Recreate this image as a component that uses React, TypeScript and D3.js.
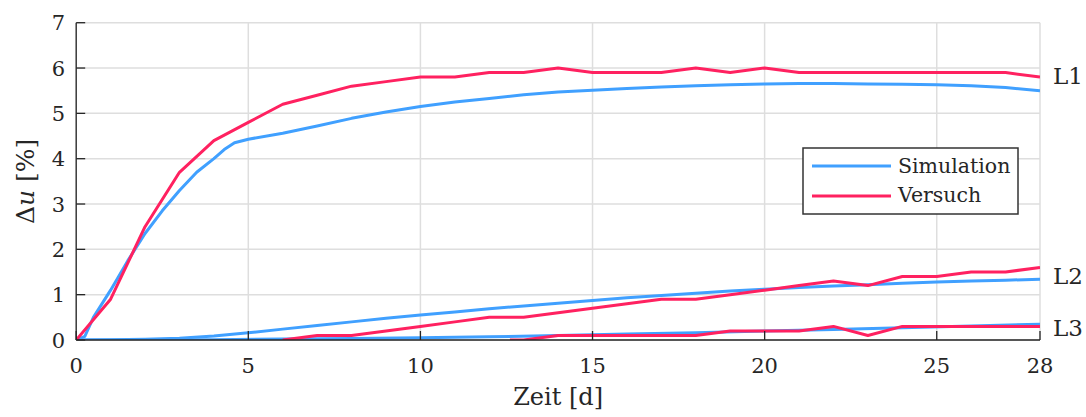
import React from "react";
import * as d3 from "d3";

// Measured deformation increase Δu [%] over time for three load levels
const days = [0, 1, 2, 3, 4, 5, 6, 7, 8, 9, 10, 11, 12, 13, 14, 15, 16, 17, 18, 19, 20, 21, 22, 23, 24, 25, 26, 27, 28];

// L1 — test (Versuch)
const l1Test = [0, 0.9, 2.5, 3.7, 4.4, 4.8, 5.2, 5.4, 5.6, 5.7, 5.8, 5.8, 5.9, 5.9, 6.0, 5.9, 5.9, 5.9, 6.0, 5.9, 6.0, 5.9, 5.9, 5.9, 5.9, 5.9, 5.9, 5.9, 5.8];

// L1 — simulation
const l1SimDays = [0, 0.25, 0.5, 1, 1.5, 2, 2.5, 3, 3.5, 4, 4.3, 4.6, 5, 6, 7, 8, 9, 10, 11, 12, 13, 14, 15, 16, 17, 18, 19, 20, 21, 22, 23, 24, 25, 26, 27, 28];
const l1Sim = [0, 0.08, 0.5, 1.1, 1.75, 2.35, 2.85, 3.3, 3.7, 4.0, 4.2, 4.35, 4.43, 4.56, 4.72, 4.89, 5.03, 5.15, 5.25, 5.33, 5.41, 5.47, 5.51, 5.55, 5.58, 5.61, 5.63, 5.65, 5.66, 5.66, 5.65, 5.64, 5.63, 5.61, 5.57, 5.5];

// L2 — simulation
const l2Sim = [0, 0.003, 0.015, 0.04, 0.09, 0.16, 0.24, 0.32, 0.4, 0.48, 0.55, 0.62, 0.69, 0.75, 0.81, 0.87, 0.93, 0.98, 1.03, 1.08, 1.12, 1.16, 1.19, 1.22, 1.25, 1.28, 1.3, 1.32, 1.34];

// L2 — test, measured from day 6
const l2TestDays = [6, 7, 8, 9, 10, 11, 12, 13, 14, 15, 16, 17, 18, 19, 20, 21, 22, 23, 24, 25, 26, 27, 28];
const l2Test = [0, 0.1, 0.1, 0.2, 0.3, 0.4, 0.5, 0.5, 0.6, 0.7, 0.8, 0.9, 0.9, 1.0, 1.1, 1.2, 1.3, 1.2, 1.4, 1.4, 1.5, 1.5, 1.6];

// L3 — simulation
const l3SimDays = [0, 2, 4, 6, 8, 10, 12, 14, 16, 18, 20, 22, 24, 26, 28];
const l3Sim = [0, 0.002, 0.008, 0.02, 0.035, 0.05, 0.07, 0.1, 0.13, 0.16, 0.2, 0.23, 0.27, 0.31, 0.35];

// L3 — test, measured from day 12.6
const l3TestDays = [12.6, 13, 14, 15, 16, 17, 18, 19, 20, 21, 22, 23, 24, 25, 26, 27, 28];
const l3Test = [0, 0, 0.1, 0.1, 0.1, 0.1, 0.1, 0.2, 0.2, 0.2, 0.3, 0.1, 0.3, 0.3, 0.3, 0.3, 0.3];

const xTicks = [0, 5, 10, 15, 20, 25, 28];
const yTicks = [0, 1, 2, 3, 4, 5, 6, 7];
const lineLabels = ["L1", "L2", "L3"];
const legendItems = ["Simulation", "Versuch"];

const BLUE = "#40a0ff";
const RED = "#ff2160";
const SERIF = "DejaVu Serif";

export default function App() {
  const W = 1086;
  const H = 417;
  const left = 76.2;
  const right = 1040;
  const top = 22.7;
  const bottom = 340;

  const x = d3.scaleLinear().domain([0, 28]).range([left, right]);
  const y = d3.scaleLinear().domain([0, 7]).range([bottom, top]);

  const line = d3
    .line<[number, number]>()
    .x((d) => x(d[0]))
    .y((d) => y(d[1]));

  const zip = (xs: number[], ys: number[]): [number, number][] => xs.map((v, i) => [v, ys[i]]);

  const series = [
    { pts: zip(l1SimDays, l1Sim), color: BLUE },
    { pts: zip(days, l2Sim), color: BLUE },
    { pts: zip(l3SimDays, l3Sim), color: BLUE },
    { pts: zip(days, l1Test), color: RED },
    { pts: zip(l2TestDays, l2Test), color: RED },
    { pts: zip(l3TestDays, l3Test), color: RED },
  ];

  // label anchor values at the right end of each load level
  const labelY = [l1Test[l1Test.length - 1] + 0.05, (l2Test[l2Test.length - 1] + l2Sim[l2Sim.length - 1]) / 2 - 0.03, 0.28];

  const gridColor = "#dedede";
  const ink = "#262626";

  return (
    <svg width={W} height={H} style={{ position: "absolute", left: 0, top: 0, background: "#fff" }} fontFamily={SERIF}>
      <defs>
        <clipPath id="plotArea">
          <rect x={left} y={top - 2} width={right - left} height={bottom - top + 2} />
        </clipPath>
      </defs>

      {/* grid */}
      {yTicks.map((t) => (
        <line key={"gy" + t} x1={left} x2={right} y1={y(t)} y2={y(t)} stroke={gridColor} strokeWidth={1.5} />
      ))}
      {xTicks.map((t) => (
        <line key={"gx" + t} x1={x(t)} x2={x(t)} y1={top} y2={bottom} stroke={gridColor} strokeWidth={1.5} />
      ))}

      {/* data lines */}
      <g clipPath="url(#plotArea)">
        {series.map((s, i) => (
          <path
            key={i}
            d={line(s.pts) || ""}
            fill="none"
            stroke={s.color}
            strokeWidth={3}
            strokeLinejoin="round"
          />
        ))}
      </g>

      {/* axes */}
      <line x1={left} x2={left} y1={top} y2={bottom} stroke={ink} strokeWidth={1.3} />
      <line x1={left} x2={right} y1={bottom} y2={bottom} stroke={ink} strokeWidth={1.3} />
      {yTicks.map((t) => (
        <line key={"ty" + t} x1={left} x2={left + 9} y1={y(t)} y2={y(t)} stroke={ink} strokeWidth={1.3} />
      ))}
      {xTicks.map((t) => (
        <line key={"tx" + t} x1={x(t)} x2={x(t)} y1={bottom} y2={bottom - 9} stroke={ink} strokeWidth={1.3} />
      ))}

      {/* tick labels */}
      {yTicks.map((t) => (
        <text key={"ly" + t} x={left - 11} y={y(t) + 7.6} textAnchor="end" fontSize={21} fill={ink}>
          {t}
        </text>
      ))}
      {xTicks.map((t) => (
        <text key={"lx" + t} x={x(t)} y={373} textAnchor="middle" fontSize={21} fill={ink}>
          {t}
        </text>
      ))}

      {/* axis titles */}
      <text x={(left + right) / 2} y={405} textAnchor="middle" fontSize={24} fill={ink}>
        Zeit [d]
      </text>
      <text
        transform={`translate(34, ${(top + bottom) / 2}) rotate(-90)`}
        textAnchor="middle"
        fontSize={25}
        fill={ink}
      >
        Δ<tspan fontStyle="italic">u</tspan> [%]
      </text>

      {/* load level labels */}
      {lineLabels.map((lab, i) => (
        <text key={lab} x={1053} y={y(labelY[i]) + 9} fontSize={23} fill={ink}>
          {lab}
        </text>
      ))}

      {/* legend */}
      <g>
        <rect x={803} y={148} width={215} height={66} fill="#fff" stroke="#333" strokeWidth={1.5} />
        {legendItems.map((name, i) => (
          <g key={name}>
            <line x1={812} x2={891} y1={166 + i * 30} y2={166 + i * 30} stroke={i === 0 ? BLUE : RED} strokeWidth={3} />
            <text x={898} y={173 + i * 29} fontSize={20.5} fill={ink}>
              {name}
            </text>
          </g>
        ))}
      </g>
    </svg>
  );
}
